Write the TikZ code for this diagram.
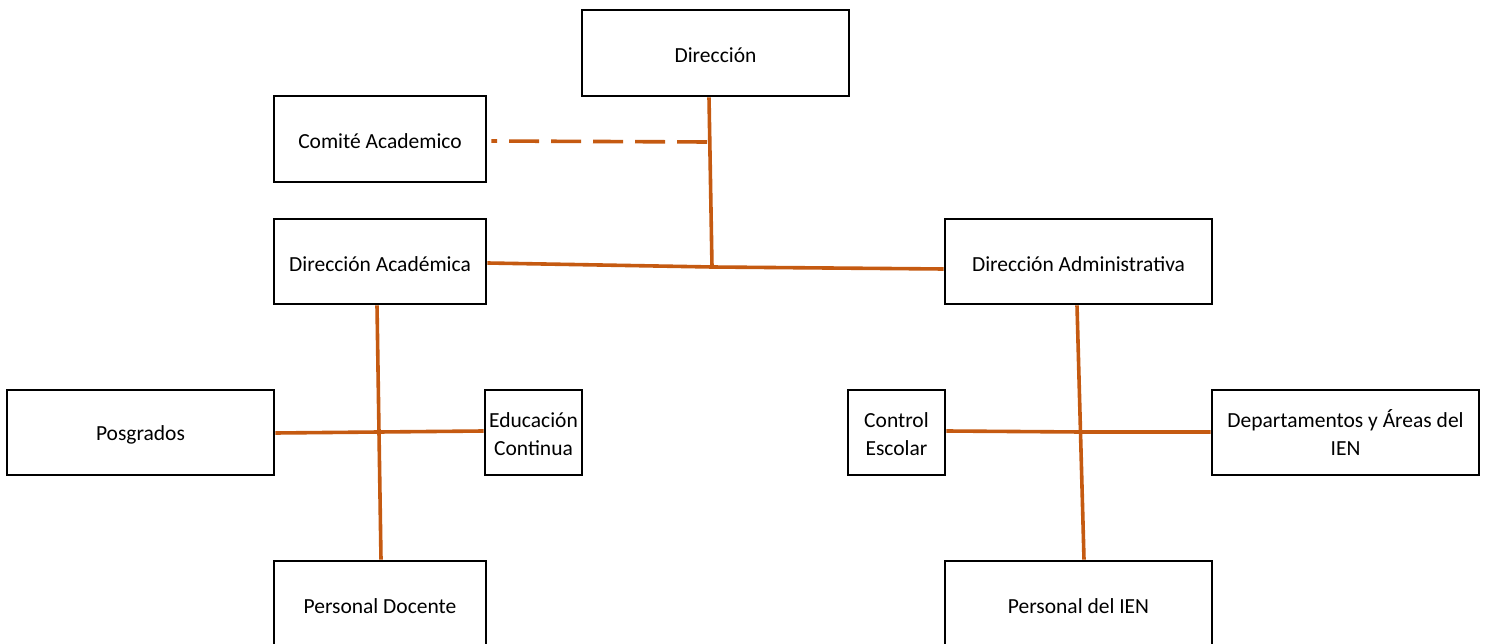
\documentclass[tikz,border=0pt]{standalone}
\usepackage{fontspec}
\setmainfont{Carlito}
\definecolor{linkc}{HTML}{C55A11}
\newcommand{\tlines}[1]{\raisebox{-3pt}[\height][\depth]{\begin{tabular}{@{}c@{}}#1\end{tabular}}}
\newcommand{\tone}[1]{\raisebox{-2.5pt}[\height][\depth]{#1}}
\begin{document}
\begin{tikzpicture}[x=1pt,y=-1pt,
  box/.style={draw=black,line width=2.8pt,fill=white,inner sep=0pt,align=center,font=\fontsize{21.5}{28}\selectfont},
  link/.style={draw=linkc,line width=3.6pt},
  dlink/.style={link,dash pattern=on 30pt off 12pt}]
\useasboundingbox (0,0) rectangle (1486,644);
\fill[white] (0,0) rectangle (1486,644);
% nodes
\node[box,minimum width=267pt,minimum height=86pt] (dir) at (715.5,53) {\tone{Dirección}};
\node[box,minimum width=212pt,minimum height=86pt] (com) at (380,139) {\tone{Comité Academico}};
\node[box,minimum width=212pt,minimum height=85pt] (dac) at (380,261.5) {\tone{Dirección Académica}};
\node[box,minimum width=267pt,minimum height=85pt] (dad) at (1078.5,261.5) {\tone{Dirección Administrativa}};
\node[box,minimum width=267pt,minimum height=85pt] (pos) at (140.5,432.5) {\tone{Posgrados}};
\node[box,minimum width=97pt,minimum height=85pt] (edu) at (533.5,432.5) {\tlines{Educación\\Continua}};
\node[box,minimum width=97pt,minimum height=85pt] (ces) at (896.5,432.5) {\tlines{Control\\Escolar}};
\node[box,minimum width=267pt,minimum height=85pt] (dep) at (1345.5,432.5) {\tlines{Departamentos y Áreas del\\IEN}};
\node[box,minimum width=212pt,minimum height=86pt] (pdo) at (380,604) {\tone{Personal Docente}};
\node[box,minimum width=267pt,minimum height=86pt] (pie) at (1078.5,604) {\tone{Personal del IEN}};
% junctions
\coordinate (j1) at (712,267);
\coordinate (jd) at (707,142);
\coordinate (j2) at (379,432);
\coordinate (j3) at (1081,432);
% connectors
\draw[link] ([xshift=-6.5pt]dir.south) -- (j1);
\draw[dlink] (jd) -- ([xshift=4pt,yshift=-2pt]com.east);
\draw[link] ([yshift=-1.5pt]dac.east) -- (j1) -- ([yshift=-7.5pt]dad.west);
\draw[link] ([xshift=-3pt]dac.south) -- ([xshift=1pt]pdo.north);
\draw[link] ([yshift=-0.5pt]pos.east) -- (j2) -- ([yshift=1.5pt]edu.west);
\draw[link] ([xshift=-1.5pt]dad.south) -- ([xshift=5.5pt]pie.north);
\draw[link] ([yshift=1.5pt]ces.east) -- (j3) -- ([yshift=0.5pt]dep.west);
\end{tikzpicture}
\end{document}
